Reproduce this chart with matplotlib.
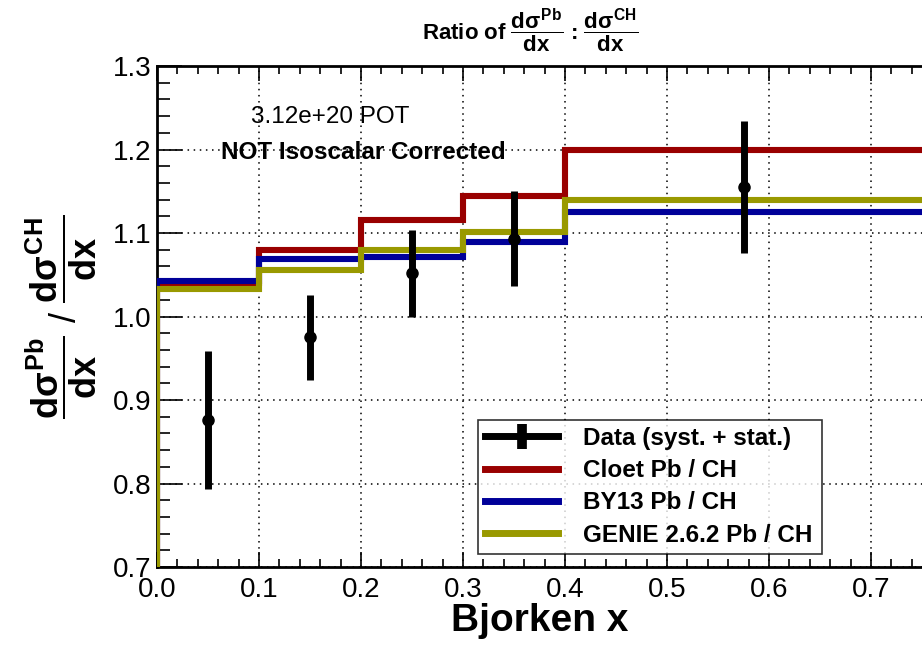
import numpy as np
import matplotlib
matplotlib.use('Agg')
import matplotlib.pyplot as plt
from matplotlib.lines import Line2D
from matplotlib.ticker import MultipleLocator, FormatStrFormatter

plt.rcParams['font.family'] = ['Liberation Sans', 'DejaVu Sans']
plt.rcParams['mathtext.fontset'] = 'custom'
plt.rcParams['mathtext.rm'] = 'Liberation Sans:bold'
plt.rcParams['mathtext.it'] = 'Liberation Sans:bold'
plt.rcParams['mathtext.bf'] = 'Liberation Sans:bold'

# Bjorken x binning and Pb/CH ratios
bin_edges = [0.0, 0.1, 0.2, 0.3, 0.4, 0.75]
cloet = [1.040, 1.080, 1.116, 1.144, 1.200]
by13 = [1.042, 1.069, 1.071, 1.089, 1.125]
genie = [1.033, 1.056, 1.080, 1.101, 1.140]

data_x = [0.05, 0.15, 0.25, 0.35, 0.575]
data_y = [0.876, 0.975, 1.052, 1.093, 1.155]
data_err = [0.083, 0.051, 0.052, 0.057, 0.079]

y_min, y_max = 0.7, 1.3
x_min, x_max = 0.0, 0.75

fig = plt.figure(figsize=(9.22, 6.48), dpi=100)
ax = fig.add_axes([0.1703, 0.125, 0.8297, 0.773])


def draw_hist(vals, color, label):
    # histogram outline, rising from the frame bottom at the first edge
    xs = np.r_[bin_edges[0], bin_edges]
    ys = np.r_[y_min, vals, vals[-1]]
    ax.plot(xs, ys, drawstyle='steps-post', color=color, lw=4.4,
            label=label, solid_joinstyle='miter', zorder=3)


draw_hist(cloet, '#990000', 'Cloet Pb / CH')
draw_hist(by13, '#000099', 'BY13 Pb / CH')
draw_hist(genie, '#999900', 'GENIE 2.6.2 Pb / CH')

ax.errorbar(data_x, data_y, yerr=data_err, fmt='o', color='black',
            ms=8, elinewidth=5, capsize=0, zorder=5)

ax.set_xlim(x_min, x_max)
ax.set_ylim(y_min, y_max)
ax.xaxis.set_major_locator(MultipleLocator(0.1))
ax.xaxis.set_minor_locator(MultipleLocator(0.02))
ax.yaxis.set_major_locator(MultipleLocator(0.1))
ax.yaxis.set_minor_locator(MultipleLocator(0.02))
ax.xaxis.set_major_formatter(FormatStrFormatter('%.1f'))
ax.yaxis.set_major_formatter(FormatStrFormatter('%.1f'))
ax.tick_params(which='both', direction='in', top=True, right=False,
               labelsize=20, width=1.2)
ax.tick_params(axis='y', which='major', length=18, pad=4)
ax.tick_params(axis='y', which='minor', length=9)
ax.tick_params(axis='x', which='major', length=11, pad=7)
ax.tick_params(axis='x', which='minor', length=6)
ax.grid(True, which='major', color='black', linestyle=(0, (1, 3)), lw=1.1)
for side in ['left', 'bottom', 'top']:
    ax.spines[side].set_linewidth(2.0)
ax.spines['right'].set_visible(False)

ax.set_xlabel('Bjorken x', fontsize=28, fontweight='bold', labelpad=0)
ax.set_ylabel(r'$\dfrac{d\sigma^{Pb}}{dx}$ / $\dfrac{d\sigma^{CH}}{dx}$',
              fontsize=26, labelpad=10)

fig.text(0.575, 0.952,
         r'Ratio of $\dfrac{d\sigma^{Pb}}{dx}$ : $\dfrac{d\sigma^{CH}}{dx}$',
         ha='center', va='center', fontsize=16, fontweight='bold')

ax.text(0.226, 0.898, '3.12e+20 POT', transform=ax.transAxes,
        ha='center', va='center', fontsize=17.5)
ax.text(0.27, 0.828, 'NOT Isoscalar Corrected', transform=ax.transAxes,
        ha='center', va='center', fontsize=17.5, fontweight='bold')

handles = [
    Line2D([], [], color='black', lw=5, marker='|', ms=18, mew=7),
    Line2D([], [], color='#990000', lw=5),
    Line2D([], [], color='#000099', lw=5),
    Line2D([], [], color='#999900', lw=5),
]
labels = ['Data (syst. + stat.)', 'Cloet Pb / CH', 'BY13 Pb / CH',
          'GENIE 2.6.2 Pb / CH']
leg = ax.legend(handles, labels, loc='lower left',
                bbox_to_anchor=(0.4196, 0.026, 0.4497, 0.2594),
                mode='expand', borderaxespad=0, fontsize=17.5,
                frameon=True, fancybox=False, edgecolor='black',
                handlelength=3.0, borderpad=0.3, labelspacing=0.38,
                handletextpad=1.0)
for t in leg.get_texts():
    t.set_fontweight('bold')
leg.get_frame().set_linewidth(1.2)

fig.savefig('out.png', dpi=100)
